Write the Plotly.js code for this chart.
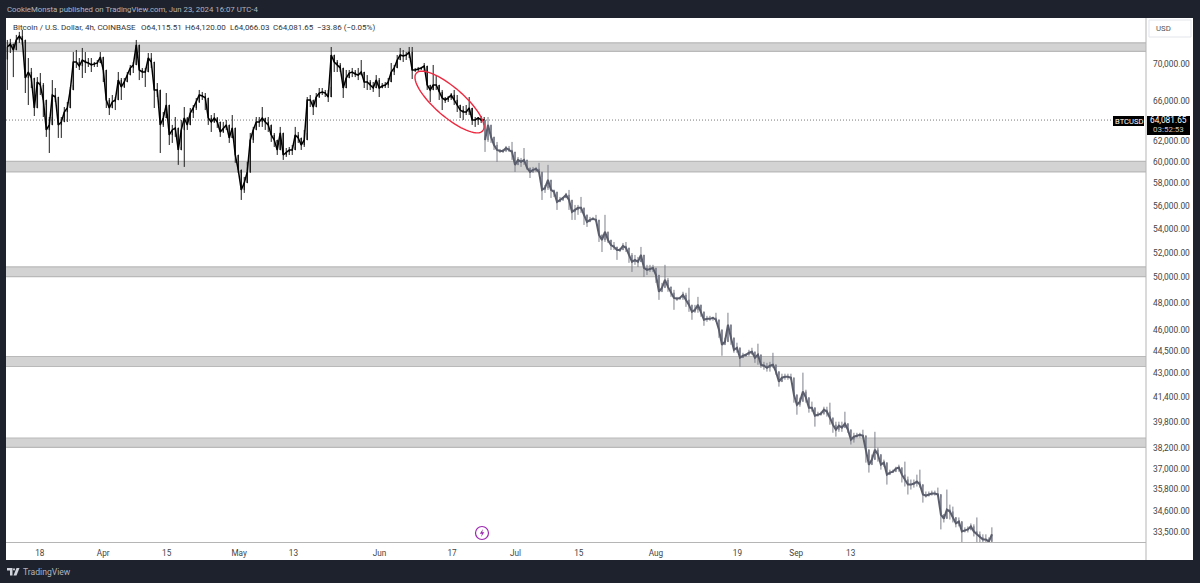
<!DOCTYPE html>
<html><head><meta charset="utf-8">
<script src="https://cdn.plot.ly/plotly-3.0.1.min.js"></script>
<style>html,body{margin:0;padding:0;background:#1e222d;overflow:hidden}#c{width:1200px;height:583px}</style>
</head><body><div id="c"></div>
<script>
const actualHigh=[72700,72820,72130,73280,73630,73860,72360,70660,69560,68250,68570,69010,67930,65620,64390,68250,67400,66450,64390,65410,65930,67510,71330,71560,70660,71790,71330,70660,70660,70220,70440,71330,70110,68250,66350,66660,66450,69120,68470,68470,69120,69890,70220,72700,71220,69560,69560,71220,71220,70110,67930,65620,64900,66870,63790,63590,64390,61910,64090,65410,64390,65310,65620,66350,67190,66980,66870,65100,64590,64790,64390,63790,63890,64090,63090,64590,61810,60180,58960,58590,59990,
62790,63390,64390,64390,65410,64290,64390,63090,62790,61810,63390,61320,61320,61420,61610,63390,62890,62100,63090,66450,66660,66140,66870,67400,67400,67190,67190,71900,71000,70440,70110,68250,69340,69340,69560,69340,69560,70440,68790,68790,68250,68040,68790,68470,67930,68040,68470,70110,69890,71000,71790,71560,71330,71900,71900,69560,69670,69670,70110,69010,67720,69890,68790,67400,67190,66450,66560,66870,67190,66660,65620,65510,65620,66450,64590,64390,64390,64490,64390];
const actualLow=[67190,71220,68570,71560,72360,72130,66870,65620,67400,64490,66870,66660,64390,62400,60840,64390,65930,62300,62300,63890,63890,65930,67720,69560,69340,68470,69010,69670,69120,69670,69670,70110,68040,65310,64590,65310,65100,67720,66140,67400,68250,69010,69010,71220,68250,68470,67510,69670,69560,65310,66450,60840,63390,64390,61610,61810,62400,59710,61420,59520,63090,64090,64290,65100,65830,66140,65100,63590,62890,63790,63290,62400,62790,63090,61810,62790,59900,58960,56500,57130,58770,
58960,61810,63090,63390,63390,63090,62890,61910,61420,60650,61810,60180,60460,60650,60650,61420,61810,61130,61420,62790,65410,64590,65410,66350,66660,66450,65930,67510,69120,69120,69120,66350,67510,68470,68570,68570,68250,68790,67400,67190,67190,66980,67510,66450,67400,67400,67400,68470,68790,70110,70440,70220,70440,70660,68360,69120,69230,69340,69120,67190,65930,67190,67190,66140,65100,65830,65930,66140,65620,64900,64290,64090,64590,64590,63590,63390,63590,63790,63590];
const actualClose=[71900,72240,71560,72700,73160,72700,68470,69120,68470,65310,68040,67720,66140,63090,63590,66660,66450,63590,63890,64900,65310,67190,70220,70220,69780,70440,70220,70110,69890,70000,70110,70770,69340,66140,65310,65930,66140,68250,67510,68040,68790,69560,69890,72130,69340,69120,69120,70660,70220,67190,67190,63590,64290,65620,62590,63090,63290,61130,63090,64290,63590,64790,65310,65930,66660,66560,66350,64290,63890,64290,63890,62890,63290,63590,62300,63290,60650,59240,57400,58040,59050,
62100,63090,63890,63890,64290,63890,63590,62590,62100,61130,62790,60650,60940,61130,61130,62590,62300,61610,62100,66140,66140,65410,66450,66870,66980,66870,66450,71000,70220,69890,69560,67400,68470,69010,69120,68900,68790,69120,68040,68040,67720,67400,68250,67400,67620,67720,68040,69120,69560,70440,71000,70880,71000,71330,69340,69340,69450,69560,69780,67720,67190,67720,67720,66980,66350,66140,66350,66660,66140,65620,65100,64900,64900,65310,64090,64090,64290,64090,64081.65];

const projHigh=[62300,64390,63090,62100,61910,61230,61230,61520,61520,61910,60840,60460,60370,61320,59990,59430,59520,59520,59900,58590,57850,59710,58130,57400,56680,56770,56770,57130,57400,56230,56060,56060,56770,55620,54920,55010,55010,55190,54580,53480,55190,53730,52880,52880,52390,52390,52800,52880,52220,51970,51810,51650,52470,51410,51010,51010,51010,50760,49580,49580,51010,49970,49200,49040,48500,48500,48890,48810,49200,47890,47890,48500,47670,47000,47070,47070,47000,47300,46630,45330,45470,47300,46050,44830,45120,44410,44410,44340,44620,44760,44480,45050,43920,43780,43710,43780,44410,43370,42900,42970,42970,42970,42970,42700,41250,41380,43040,41900,41050,41120,40470,40470,40470,40790,40790,41050,40090,39840,39840,39840,40470,39590,39150,39150,39150,39150,39340,38850,37650,37830,39210,38240,37410,37530,36940,36940,36940,37110,37230,37060,37410,36540,36370,36370,36650,36940,35970,35690,35690,35740,35740,35910,35350,34420,35800,34960,34850,34150,34260,33730,33730,33780,33940,33890,34260,33510,33360,33360,33200,33730];
const projLow=[60940,61910,61810,61130,59990,60840,60840,60940,60940,60180,59050,59710,59520,59710,59240,58490,58960,59050,58960,56500,57130,57400,56680,56770,55620,56320,56410,56680,55620,54750,54750,55190,55360,54320,54150,54580,54750,54580,52880,52050,52880,52800,52220,52220,51410,52050,52220,52050,51170,50440,51010,50840,51410,50040,50200,50440,50440,49580,48270,48890,49200,48890,48500,47520,48190,48270,48270,47740,47370,46780,47300,47300,47000,46340,46630,46710,46710,46630,45470,44200,44970,45540,44970,44410,44410,43440,44130,44130,44200,44270,43710,43580,43370,43240,43110,43110,43370,42900,42100,42560,42560,42560,42560,41050,40280,40790,41120,41050,40410,40470,39530,40160,40220,40280,40160,39650,39150,38910,39210,39210,39470,39150,38430,38550,38850,38850,38850,37350,36770,37410,37650,37410,36940,37110,36080,36650,36770,36820,36820,36200,35970,35520,35800,35910,35970,35910,35070,35350,35410,35460,35460,35410,33620,33990,34310,34150,33990,33730,33780,32830,33460,33460,33570,33250,32830,32830,32830,32830,32830,32830];
const projClose=[62100,63590,62400,61610,61130,61030,61030,61320,61130,60940,59710,60180,59990,60180,59430,59050,59240,59330,59050,57400,57580,58310,57400,57220,56320,56500,56680,56950,56500,55450,55620,55800,55800,55190,54580,54750,54840,54750,53480,53050,53730,53050,52630,52470,52220,52220,52550,52390,51810,51250,51410,51250,51810,50760,50600,50680,50760,50200,48890,49200,49810,49270,48810,48420,48350,48420,48650,48270,47890,47370,47520,47890,47370,46780,46850,46850,46930,46780,46050,44970,45190,46410,45470,44620,44760,44060,44200,44270,44410,44480,44060,44270,43580,43510,43370,43510,43580,43110,42430,42700,42760,42760,42700,41570,40920,41120,41770,41380,40730,40730,40220,40280,40350,40600,40470,40090,39650,39340,39590,39470,39720,39340,38730,38910,38970,39030,38970,38120,37230,37530,38120,37830,37230,37350,36650,36770,36820,37000,37060,36650,36370,36080,36080,36140,36250,36080,35520,35460,35520,35580,35580,35520,34420,34200,34690,34580,34260,33940,34040,33510,33570,33620,33780,33510,33360,33200,33090,33090,32980,33360];

const bandTops=[72370,60040,50840,44150,38830];
const bandBottoms=[71400,59050,50070,43460,38260];
const lastPrice=64081.65;
const priceTicks=[70000,66000,62000,60000,58000,56000,54000,52000,50000,48000,46000,44500,43000,41400,39800,38200,37000,35800,34600,33500];
const priceTickLabels=priceTicks.map(v=>v.toLocaleString('en-US',{minimumFractionDigits:2}));
const dateTicks=['2024-03-18','2024-04-01','2024-04-15','2024-05-01','2024-05-13','2024-06-01','2024-06-17','2024-07-01','2024-07-15','2024-08-01','2024-08-19','2024-09-01','2024-09-13'];
const dateTickLabels=['18','Apr','15','May','13','Jun','17','Jul','15','Aug','19','Sep','13'];
const legendParts=['Bitcoin / U.S. Dollar, 4h, COINBASE','O64,115.51','H64,120.00','L64,066.03','C64,081.65','\u221233.86 (\u22120.05%)'];
const legendLeft=[12,140,184,229,272,316];

const stepMs=15.89*3600*1000;
const dates=(start,n)=>{const t=Date.parse(start);return Array.from({length:n},(_,i)=>new Date(t+i*stepMs).toISOString());};
const opens=(close,first)=>close.map((c,i)=>i?close[i-1]:first);

const fx=p=>(p-6)/1140, fy=p=>1-(p-18)/524;
const DARK='#1e222d', FONT='Roboto, "Liberation Sans", sans-serif';

function candle(x,o,h,l,c,line,fill){
  const side={line:{color:line,width:1},fillcolor:fill};
  return {type:'candlestick',x,open:o,high:h,low:l,close:c,increasing:side,decreasing:side,whiskerwidth:0,hoverinfo:'skip',showlegend:false};
}
function path(x,y,color,width){
  return {type:'scatter',mode:'lines',x,y,line:{color,width,shape:'linear'},hoverinfo:'skip',showlegend:false};
}
const actualDates=dates('2024-03-10T20:00:00Z',actualClose.length);
const projDates=dates('2024-06-24T07:00:00Z',projClose.length);
const traces=[
  candle(actualDates,opens(actualClose,70500),actualHigh,actualLow,actualClose,'#1c1c1c','#000000'),
  path(actualDates,actualClose,'#000000',1.5),
  candle(projDates,opens(projClose,64081.65),projHigh,projLow,projClose,'#7d808d','#555867'),
  path(projDates,projClose,'#5a5d6c',2)
];

const shapes=[
 {type:'rect',xref:'paper',yref:'paper',x0:0,x1:fx(1193),y0:fy(560),y1:1,fillcolor:'#ffffff',line:{width:0},layer:'below'}
];
bandTops.forEach((t,i)=>{
  shapes.push({type:'rect',xref:'paper',yref:'y',x0:0,x1:1,y0:bandBottoms[i],y1:t,fillcolor:'#d3d3d3',line:{width:0},layer:'below'});
  [t,bandBottoms[i]].forEach(v=>shapes.push({type:'line',xref:'paper',yref:'y',x0:0,x1:1,y0:v,y1:v,line:{color:'#b9b9b9',width:1.2},layer:'below'}));
});
shapes.push({type:'line',xref:'paper',yref:'y',x0:0,x1:1,y0:lastPrice,y1:lastPrice,line:{color:'#555555',width:0.8,dash:'1px,2px'},layer:'below'});
shapes.push({type:'line',xref:'paper',yref:'paper',x0:1,x1:1,y0:fy(560),y1:1,line:{color:'#b5b5b5',width:1}});
// red ellipse
(function(){
  const cx=449.5,cy=102,a=44,b=14.5,ang=41*Math.PI/180;let d='';
  for(let i=0;i<=72;i++){const t=i/72*2*Math.PI,ex=a*Math.cos(t),ey=b*Math.sin(t);
    const X=cx+ex*Math.cos(ang)-ey*Math.sin(ang),Y=cy+ex*Math.sin(ang)+ey*Math.cos(ang);
    d+=(i?'L':'M')+fx(X).toFixed(5)+','+fy(Y).toFixed(5);}
  shapes.push({type:'path',xref:'paper',yref:'paper',path:d+'Z',line:{color:'#ee2a40',width:1.4}});
})();
// USD box
shapes.push({type:'rect',xref:'paper',yref:'paper',x0:fx(1149),x1:fx(1191),y0:fy(37),y1:fy(20),fillcolor:'#ffffff',line:{color:'#e3e5ea',width:1}});
// tags
shapes.push({type:'rect',xref:'paper',yref:'paper',x0:fx(1113),x1:fx(1144),y0:fy(126),y1:fy(116),fillcolor:'#000000',line:{width:0}});
shapes.push({type:'rect',xref:'paper',yref:'paper',x0:fx(1147),x1:fx(1190),y0:fy(135),y1:fy(116),fillcolor:'#000000',line:{width:0}});
// purple icon
shapes.push({type:'circle',xref:'paper',yref:'paper',x0:fx(475.5),x1:fx(488.5),y0:fy(539.5),y1:fy(526.5),fillcolor:'#ffffff',line:{color:'#9c27b0',width:1.2}});
const pth=pts=>pts.map((p,i)=>(i?'L':'M')+fx(p[0]).toFixed(5)+','+fy(p[1]).toFixed(5)).join('')+'Z';
shapes.push({type:'path',xref:'paper',yref:'paper',path:pth([[483,529],[479.8,533.8],[482,533.8],[481,537],[484.3,532.3],[482.2,532.3]]),fillcolor:'#9c27b0',line:{width:0}});
// logo
shapes.push({type:'path',xref:'paper',yref:'paper',path:pth([[7,568],[12.5,568],[12.5,575.5],[10,575.5],[10,570.5],[7,570.5]]),fillcolor:'#d1d4dc',line:{width:0}});
shapes.push({type:'path',xref:'paper',yref:'paper',path:pth([[16.5,568],[19.5,568],[16.5,575.5],[13.5,575.5]]),fillcolor:'#d1d4dc',line:{width:0}});
shapes.push({type:'circle',xref:'paper',yref:'paper',x0:fx(13),x1:fx(15),y0:fy(570.5),y1:fy(568.3),fillcolor:'#d1d4dc',line:{width:0}});

const ann=(px,py,text,size,color,anchor,extra)=>Object.assign({xref:'paper',yref:'paper',x:fx(px),y:fy(py),text,showarrow:false,xanchor:anchor||'left',yanchor:'middle',font:{family:FONT,size,color},borderpad:0},extra||{});
const annotations=[
 ann(6,9.5,'CookieMonsta published on TradingView.com, Jun 23, 2024 16:07 UTC-4',7.8,'#b2b5be'),
 ann(22,571.5,'TradingView',8.6,'#b2b5be'),
 ann(1155,29,'USD',7.8,'#555555'),
 ann(1128.5,121,'BTCUSD',7.6,'#ffffff','center'),
 ann(1168.5,120.5,'64,081.65',8.3,'#ffffff','center'),
 ann(1168.5,129.5,'03:52:53',8,'#c4c4c4','center')
];
legendParts.forEach((t,i)=>annotations.push(ann(legendLeft[i],27.5,t,8,'#333333')));

const layout={
 width:1200,height:583,paper_bgcolor:DARK,plot_bgcolor:'#ffffff',
 margin:{l:6,r:54,t:18,b:41,pad:0},showlegend:false,dragmode:false,hovermode:false,
 xaxis:{type:'date',range:['2024-03-10T13:00:00Z','2024-11-17T05:00:00Z'],rangeslider:{visible:false},
   tickmode:'array',tickvals:dateTicks,ticktext:dateTickLabels,tickangle:0,showgrid:false,zeroline:false,
   ticks:'',showline:true,linecolor:'#b5b5b5',linewidth:1,fixedrange:true,ticklabelstandoff:3,
   tickfont:{family:FONT,size:8.2,color:'#444444'}},
 yaxis:{type:'log',side:'right',range:[Math.log10(32960),Math.log10(75260)],
   tickmode:'array',tickvals:priceTicks,ticktext:priceTickLabels,showgrid:false,zeroline:false,
   ticks:'',showline:false,fixedrange:true,ticklabelstandoff:6,
   tickfont:{family:FONT,size:8.4,color:'#444444'}},
 shapes,annotations,boxmode:'overlay',boxgap:0.2
};
Plotly.newPlot('c',traces,layout,{displayModeBar:false,staticPlot:true});
</script></body></html>
